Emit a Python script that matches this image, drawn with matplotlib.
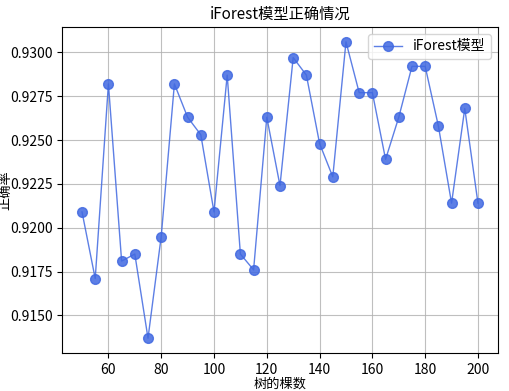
import matplotlib
matplotlib.use('Agg')
import matplotlib.pyplot as plt

plt.rcParams['font.family'] = ['Noto Sans CJK SC', 'DejaVu Sans']
plt.rcParams['axes.unicode_minus'] = False

# 树的棵数 / 正确率
n_trees = list(range(50, 201, 5))
accuracy = [0.9209, 0.9171, 0.9282, 0.9181, 0.9185, 0.9137, 0.9195, 0.9282,
            0.9263, 0.9253, 0.9209, 0.9287, 0.9185, 0.9176, 0.9263, 0.9224,
            0.9297, 0.9287, 0.9248, 0.9229, 0.9306, 0.9277, 0.9277, 0.9239,
            0.9263, 0.9292, 0.9292, 0.9258, 0.9214, 0.9268, 0.9214]

fig, ax = plt.subplots(figsize=(5.1, 3.91), dpi=100)
ax.plot(n_trees, accuracy, color='royalblue', marker='o', markersize=7,
        linewidth=1, alpha=0.85, label='iForest模型')
ax.set_xlabel('树的棵数', fontsize=9.5)
ax.set_ylabel('正确率', fontsize=9.5)
ax.xaxis.set_label_coords(0.5, -0.075)
ax.yaxis.set_label_coords(-0.115, 0.5)
ax.set_title('iForest模型正确情况', fontsize=11)
ax.grid(True, color='#b0b0b0', linewidth=0.8, alpha=0.8)
ax.legend(loc='upper right')
ax.yaxis.set_major_formatter(matplotlib.ticker.FormatStrFormatter('%.4f'))
plt.subplots_adjust(left=0.122, right=0.976, top=0.931, bottom=0.097)
plt.savefig('out.png')
